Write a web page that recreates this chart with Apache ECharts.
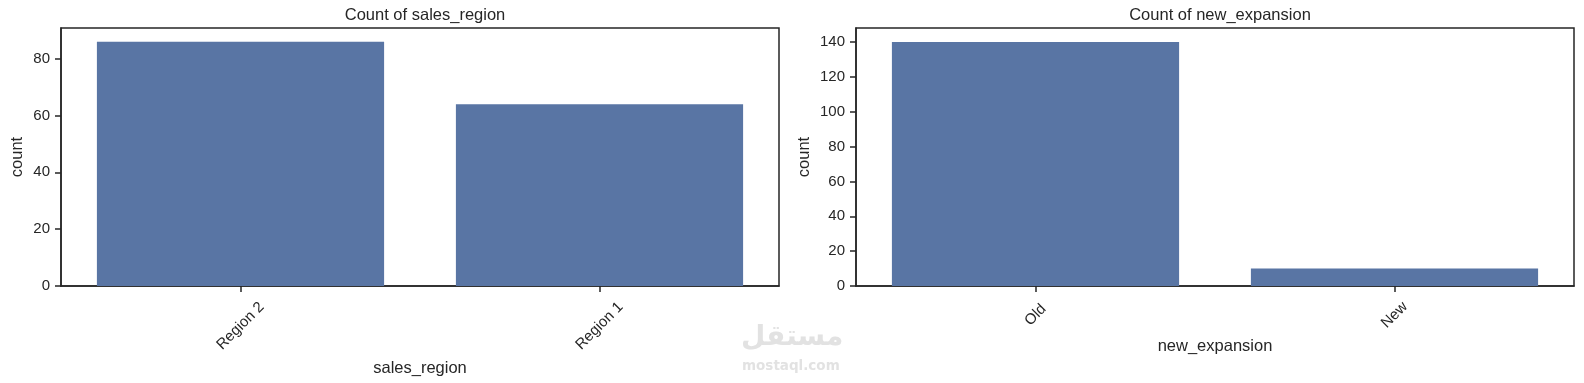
<!DOCTYPE html>
<html>
<head>
<meta charset="utf-8">
<script src="https://cdn.jsdelivr.net/npm/echarts@6/dist/echarts.min.js"></script>
<style>html,body{margin:0;padding:0;background:#fff}#c{width:1584px;height:383px}</style>
</head>
<body>
<div id="c"></div>
<script>
// Data
const regionCategories = ['Region 2', 'Region 1'];
const regionCounts = [86, 64];
const expansionCategories = ['Old', 'New'];
const expansionCounts = [140, 10];
const regionTicks = [0, 20, 40, 60, 80];
const expansionTicks = [0, 20, 40, 60, 80, 100, 120, 140];

const ink = '#262626';
const barColor = '#5975a4';
const font = 'Liberation Sans, Arial, sans-serif';

function xAxis(idx, cats, name, labelMargin, nameGap) {
  return {
    type: 'category', gridIndex: idx, data: cats, boundaryGap: true,
    name: name, nameLocation: 'middle', nameGap: nameGap,
    nameTextStyle: { color: ink, fontSize: 16.5, fontFamily: font },
    axisLine: { show: true, lineStyle: { color: ink, width: 1.5 } },
    axisTick: { show: true, alignWithLabel: true, length: 6, lineStyle: { color: ink, width: 1.5 } },
    axisLabel: { rotate: 45, align: 'center', verticalAlign: 'middle', margin: labelMargin,
      color: ink, fontSize: 15, fontFamily: font, interval: 0 },
    splitLine: { show: false }
  };
}
function yAxis(idx, max, ticks, nameGap) {
  return {
    type: 'value', gridIndex: idx, min: 0, max: max,
    name: 'count', nameLocation: 'middle', nameGap: nameGap,
    nameTextStyle: { color: ink, fontSize: 16.5, fontFamily: font },
    axisLine: { show: true, lineStyle: { color: ink, width: 1.5 } },
    axisTick: { show: true, length: 6, customValues: ticks, lineStyle: { color: ink, width: 1.5 } },
    axisLabel: { customValues: ticks, color: ink, fontSize: 15, fontFamily: font, margin: 11 },
    splitLine: { show: false }
  };
}

const chart = echarts.init(document.getElementById('c'), null, { renderer: 'canvas' });
chart.setOption({
  animation: false,
  backgroundColor: '#fff',
  title: [
    { text: 'Count of sales_region', left: 420, top: 2, textAlign: 'center',
      textStyle: { color: ink, fontSize: 16.5, fontWeight: 'normal', fontFamily: font } },
    { text: 'Count of new_expansion', left: 1215, top: 2, textAlign: 'center',
      textStyle: { color: ink, fontSize: 16.5, fontWeight: 'normal', fontFamily: font } }
  ],
  grid: [
    { left: 61, right: 805, top: 28, bottom: 97, show: true, borderColor: ink, borderWidth: 1.5, backgroundColor: 'transparent' },
    { left: 856, right: 10, top: 28, bottom: 97, show: true, borderColor: ink, borderWidth: 1.5, backgroundColor: 'transparent' }
  ],
  xAxis: [
    xAxis(0, regionCategories, 'sales_region', 40, 71),
    xAxis(1, expansionCategories, 'new_expansion', 29, 49)
  ],
  yAxis: [
    yAxis(0, 90.8, regionTicks, 35),
    yAxis(1, 148, expansionTicks, 43)
  ],
  series: [
    { type: 'bar', xAxisIndex: 0, yAxisIndex: 0, data: regionCounts, barWidth: '80%',
      itemStyle: { color: barColor } },
    { type: 'bar', xAxisIndex: 1, yAxisIndex: 1, data: expansionCounts, barWidth: '80%',
      itemStyle: { color: barColor } }
  ],
  graphic: [
    { type: 'text', left: 741, top: 324, silent: true,
      style: { text: 'مستقل', fill: '#e2e2e2', font: 'bold 28px "DejaVu Sans", sans-serif' } },
    { type: 'text', left: 742, top: 359, silent: true,
      style: { text: 'mostaql.com', fill: '#e2e2e2', font: 'bold 13.5px "DejaVu Sans", sans-serif' } }
  ]
});
</script>
</body>
</html>
